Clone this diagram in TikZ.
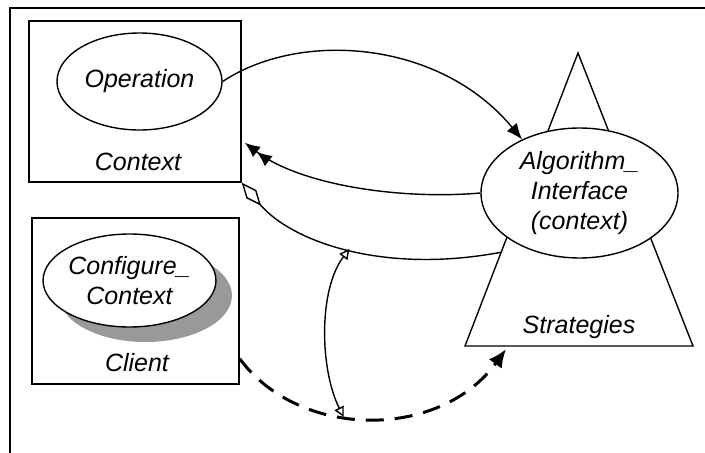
\documentclass[tikz,border=0pt]{standalone}
\usepackage{fontspec}
\setmainfont{Liberation Sans}
\usetikzlibrary{shapes.geometric, shadows, arrows.meta, calc}

\begin{document}
\begin{tikzpicture}
          [x=1pt, y=-1pt, line width=1.4pt, font=\fontsize{25}{30}\selectfont\itshape,
           box/.style={draw, inner sep=0pt},
           oval/.style={draw, ellipse, inner sep=0pt, align=center, fill=white},
           uses/.style={-{Latex[length=16pt, width=13pt]}},
           link/.style={{Triangle[open, length=10pt, width=10pt]}-{Triangle[open, length=10pt, width=10pt]}},
           dep/.style={line width=3pt, dash pattern=on 18pt off 11pt, -{Latex[length=18pt, width=16pt]}}]
            \useasboundingbox (0,0) rectangle (705,453);
            \draw (10,453) -- (10,8) -- (705,8);

            % context and client
            \node (Context) [box, minimum width=212pt, minimum height=161pt] at (135,101.5) {};
            \node (Operation) [oval, minimum width=165pt, minimum height=97pt] at (139.5,81.5) {Operation};
            \node (ContextLabel) at (138,162) {Context};
            \node (Client) [box, minimum width=207pt, minimum height=166pt] at (135.5,301) {};
            \node (Configure) [oval, minimum width=167pt, minimum height=93pt,
              general shadow={fill=black!40, shadow xshift=16pt, shadow yshift=-15pt}]
              at (129.5,280.5) {Configure\_\\Context};
            \node (ClientLabel) at (137,363) {Client};

            % strategies
            \coordinate (Top) at (578,53);
            \coordinate (BaseL) at (465,346);
            \coordinate (BaseR) at (693,346);
            \draw (Top) -- (BaseL) -- (BaseR) -- cycle;
            \node (Algorithm) [oval, minimum width=197pt, minimum height=130pt] at (579.5,193)
              {Algorithm\_\\Interface\\(context)};
            \node (StrategiesLabel) at (579,327) {Strategies};
            \coordinate (AggEnd) at ($(Top)!0.68!(BaseL)$);
            \coordinate (DepEnd) at ($(BaseL)!0.19!(BaseR)$);

            % connectors
            \draw [uses] (Operation.east) .. controls (300,30) and (440,40) .. (Algorithm.137);
            \draw [-{Latex[length=15pt, width=13pt] Latex[length=15pt, width=13pt]}, shorten >=4pt]
              (Algorithm.west) .. controls (400,200) and (300,185) .. (Context.-20);
            \draw [{Diamond[open, length=30pt, width=13pt]}-]
              (Context.south east) .. controls (290,240) and (380,275) .. coordinate[pos=0.52] (AggMid) (AggEnd);
            \draw [dep, shorten >=4pt]
              (Client.-29) .. controls (300,440) and (440,440) .. coordinate[pos=0.41] (DepMid) (DepEnd);
            \draw [link] (AggMid) .. controls (318,290) and (320,370) .. (DepMid);
        \end{tikzpicture}
\end{document}
